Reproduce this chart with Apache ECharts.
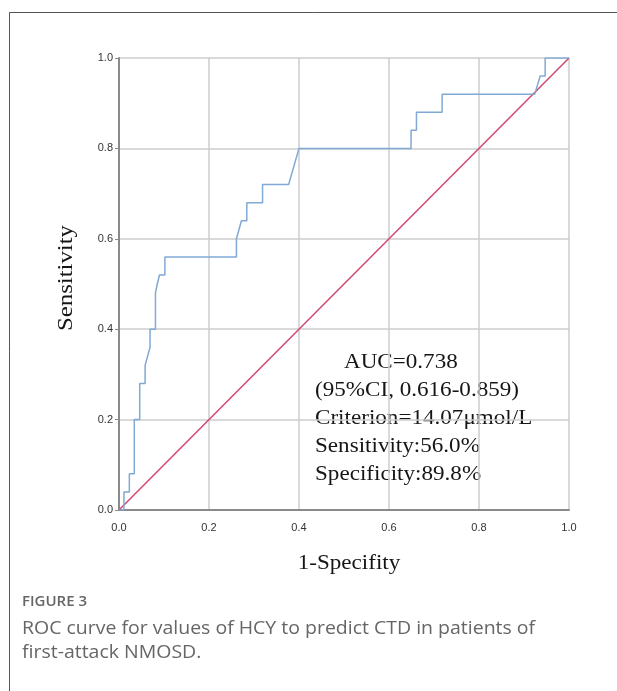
<!DOCTYPE html>
<html>
<head>
<meta charset="utf-8">
<script src="https://cdn.jsdelivr.net/npm/echarts@6/dist/echarts.min.js"></script>
<style>
  html, body { margin: 0; padding: 0; background: #fff; }
  #main { width: 617px; height: 691px; }
</style>
</head>
<body>
<div id="main"></div>
<script>
// ROC curve points (1-specificity, sensitivity)
var rocX = [0, 0.011, 0.011, 0.023, 0.023, 0.034, 0.034, 0.046, 0.046, 0.058, 0.058, 0.069, 0.069, 0.081, 0.081, 0.085, 0.090, 0.102, 0.102,
            0.261, 0.261, 0.272, 0.284, 0.284, 0.319, 0.319, 0.377, 0.40, 0.649, 0.649, 0.661, 0.661, 0.718, 0.718,
            0.924, 0.936, 0.947, 0.947, 1.0];
var rocY = [0, 0, 0.04, 0.04, 0.08, 0.08, 0.20, 0.20, 0.28, 0.28, 0.32, 0.36, 0.40, 0.40, 0.48, 0.50, 0.52, 0.52, 0.56,
            0.56, 0.60, 0.64, 0.64, 0.68, 0.68, 0.72, 0.72, 0.80, 0.80, 0.84, 0.84, 0.88, 0.88, 0.92,
            0.92, 0.96, 0.96, 1.0, 1.0];
var refX = [0, 1];
var refY = [0, 1];
var statLines = ['AUC=0.738', '(95%CI, 0.616-0.859)', 'Criterion=14.07\u03bcmol/L', 'Sensitivity:56.0%', 'Specificity:89.8%'];
var captionLines = ['ROC curve for values of HCY to predict CTD in patients of', 'first-attack NMOSD.'];

var myChart = echarts.init(document.getElementById('main'));

var rocData = rocX.map(function (x, i) { return [x, rocY[i]]; });
var refData = refX.map(function (x, i) { return [x, refY[i]]; });

var serif = '"Liberation Serif", "DejaVu Serif", serif';
// the SPSS text is a little stretched sideways, hence scaleX
var statGraphics = statLines.map(function (t, i) {
    return {
        type: 'text',
        x: i === 0 ? 344 : 315,
        y: 362 + i * 28,
        scaleX: 1.1,
        style: { text: t, font: '21px ' + serif, fill: '#151515', verticalAlign: 'middle' }
    };
});

var tickLabel = {
    color: '#333', fontSize: 11, fontFamily: 'Liberation Sans',
    formatter: function (v) { return v.toFixed(1); }
};

var option = {
    animation: false,
    grid: { left: 119, top: 58, width: 450, height: 452 },
    xAxis: {
        type: 'value', min: 0, max: 1, interval: 0.2,
        axisLine: { lineStyle: { color: '#8a8a8a', width: 2 } },
        axisTick: { show: false },
        splitLine: { lineStyle: { color: '#cdcdcd', width: 1.5 } },
        axisLabel: Object.assign({ margin: 12 }, tickLabel)
    },
    yAxis: {
        type: 'value', min: 0, max: 1, interval: 0.2,
        axisLine: { show: true, lineStyle: { color: '#8a8a8a', width: 2 } },
        axisTick: { show: true, length: 4, lineStyle: { color: '#8a8a8a' } },
        splitLine: { lineStyle: { color: '#cdcdcd', width: 1.5 } },
        axisLabel: Object.assign({ margin: 6 }, tickLabel)
    },
    series: [{
        name: 'Reference',
        type: 'line',
        data: refData,
        symbol: 'none',
        lineStyle: { color: '#d3476f', width: 1.5 },
        z: 3
    }, {
        name: 'ROC',
        type: 'line',
        data: rocData,
        symbol: 'none',
        lineStyle: { color: '#80a9d6', width: 1.5 },
        z: 4
    }],
    graphic: [{
        type: 'polyline',
        shape: { points: [[9.5, 691], [9.5, 12.5], [617, 12.5]] },
        style: { stroke: '#555', lineWidth: 1, fill: null }
    }, {
        type: 'text',
        x: 349, y: 563,
        scaleX: 1.1,
        style: { text: '1-Specifity', font: '21px ' + serif, fill: '#151515', align: 'center', verticalAlign: 'middle' }
    }, {
        type: 'text',
        x: 66, y: 278,
        rotation: Math.PI / 2,
        scaleX: 1.18,
        style: { text: 'Sensitivity', font: '21px ' + serif, fill: '#151515', align: 'center', verticalAlign: 'middle' }
    }, {
        type: 'text',
        x: 22, y: 602,
        style: { text: 'FIGURE 3', font: '600 15px "Open Sans", sans-serif', fill: '#666', verticalAlign: 'middle' }
    }, {
        type: 'text',
        x: 22, y: 617,
        scaleX: 1.025,
        style: { text: captionLines.join('\n'), font: '19px "Open Sans", sans-serif', fill: '#666', lineHeight: 24 }
    }].concat(statGraphics)
};
myChart.setOption(option);
</script>
</body>
</html>
